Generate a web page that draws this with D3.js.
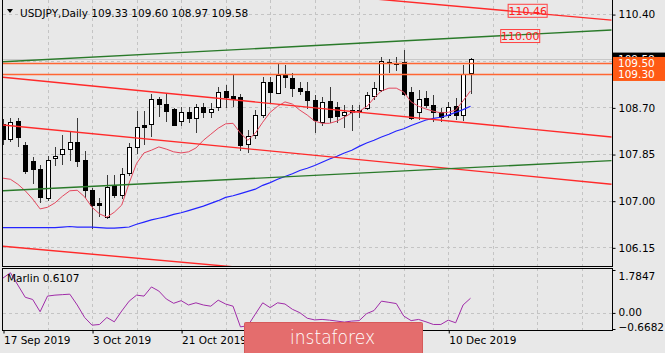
<!DOCTYPE html>
<html>
<head>
<meta charset="utf-8">
<script src="https://cdn.jsdelivr.net/npm/d3@7"></script>
<style>
  html, body { margin: 0; padding: 0; background: #e8e8e8; }
  svg { display: block; }
  text { font-family: "DejaVu Sans", sans-serif; }
</style>
</head>
<body>
<div id="chart"></div>
<script>
const symbolTitle = "USDJPY,Daily";
const lastQuote = [109.33, 109.60, 108.97, 109.58];

// daily candles, 17 Sep 2019 .. 13 Dec 2019
const opens = [108.40, 108.12, 108.45, 108.01, 107.72, 107.58, 107.04, 107.77, 107.85, 107.95,
  108.07, 107.74, 107.19, 106.95, 106.71, 107.29, 107.10, 107.50, 107.97, 108.38,
  108.40, 108.85, 108.76, 108.67, 108.46, 108.62, 108.50, 108.71, 108.61, 108.71,
  109.00, 108.90, 108.89, 108.03, 108.20, 108.56, 109.17, 108.96, 109.30, 109.23,
  109.06, 109.00, 108.83, 108.43, 108.82, 108.71, 108.56, 108.62, 108.66, 108.68,
  108.91, 109.02, 109.53, 109.51, 109.52, 108.98, 108.62, 108.88, 108.74, 108.62,
  108.56, 108.72, 108.56, 109.33];
const highs = [108.48, 108.50, 108.50, 108.07, 107.80, 107.65, 107.82, 107.97, 108.20, 108.26,
  108.50, 107.90, 107.24, 107.04, 107.47, 107.47, 107.59, 108.05, 108.63, 108.63,
  108.94, 108.89, 108.96, 108.69, 108.71, 108.71, 108.76, 108.78, 108.78, 109.08,
  109.11, 109.29, 108.95, 108.29, 108.65, 109.26, 109.26, 109.50, 109.47, 109.32,
  109.17, 109.17, 108.92, 108.89, 109.08, 108.80, 108.74, 108.75, 108.74, 108.98,
  109.17, 109.62, 109.58, 109.62, 109.74, 109.08, 109.02, 108.99, 108.92, 108.68,
  108.80, 108.88, 109.47, 109.60];
const lows = [108.03, 108.08, 107.99, 107.50, 107.32, 106.98, 107.01, 107.65, 107.67, 107.74,
  107.63, 107.06, 106.50, 106.73, 106.69, 107.07, 107.05, 107.47, 107.86, 108.04,
  108.17, 108.54, 108.45, 108.37, 108.38, 108.44, 108.26, 108.52, 108.52, 108.66,
  108.71, 108.73, 107.92, 107.88, 108.14, 108.53, 108.80, 108.96, 109.08, 108.91,
  108.94, 108.68, 108.26, 108.38, 108.43, 108.44, 108.35, 108.28, 108.53, 108.67,
  108.86, 109.00, 109.35, 109.38, 108.93, 108.49, 108.49, 108.71, 108.45, 108.45,
  108.53, 108.49, 108.47, 108.97];
const closes = [108.12, 108.44, 108.16, 107.54, 107.57, 107.07, 107.75, 107.82, 107.94, 108.07,
  107.73, 107.19, 106.92, 106.93, 107.25, 107.10, 107.49, 107.98, 108.35, 108.35,
  108.86, 108.76, 108.63, 108.38, 108.62, 108.50, 108.70, 108.62, 108.67, 108.98,
  108.89, 108.86, 108.01, 108.18, 108.56, 109.17, 108.98, 109.29, 109.25, 109.06,
  109.00, 108.83, 108.47, 108.79, 108.53, 108.55, 108.62, 108.66, 108.64, 108.92,
  109.05, 109.54, 109.50, 109.49, 108.94, 108.50, 108.85, 108.74, 108.62, 108.53,
  108.71, 108.56, 109.31, 109.58];

// moving averages as shown on the chart
const maFast = [107.41, 107.39, 107.30, 107.18, 107.03, 106.85, 106.88, 106.96, 107.08, 107.18,
  107.19, 107.07, 106.88, 106.76, 106.70, 106.79, 106.92, 107.32, 107.68, 107.87,
  107.92, 107.98, 107.94, 107.89, 107.87, 107.89, 107.96, 108.10, 108.21, 108.32,
  108.40, 108.41, 108.23, 108.10, 108.23, 108.43, 108.61, 108.72, 108.80, 108.76,
  108.65, 108.56, 108.45, 108.41, 108.41, 108.45, 108.52, 108.60, 108.63, 108.71,
  108.87, 109.00, 109.05, 109.05, 108.98, 108.80, 108.72, 108.67, 108.63, 108.60,
  108.61, 108.65, 108.82, 109.00];
const maSlow = [106.51, 106.51, 106.51, 106.51, 106.51, 106.51, 106.51, 106.51, 106.52, 106.53,
  106.52, 106.52, 106.52, 106.51, 106.50, 106.50, 106.51, 106.52, 106.57, 106.61,
  106.65, 106.68, 106.71, 106.75, 106.78, 106.82, 106.86, 106.90, 106.95, 107.00,
  107.06, 107.09, 107.13, 107.17, 107.21, 107.28, 107.33, 107.39, 107.44, 107.49,
  107.55, 107.59, 107.64, 107.70, 107.76, 107.81, 107.87, 107.92, 107.99, 108.05,
  108.10, 108.16, 108.21, 108.27, 108.31, 108.37, 108.42, 108.47, 108.50, 108.52,
  108.56, 108.61, 108.66, 108.72];

// Marlin oscillator
const marlin = [1.45, 1.67, 1.16, 0.65, 0.56, 0.05, 0.70, 0.74, 0.76, 0.78,
  0.33, -0.19, -0.51, -0.48, -0.19, -0.37, 0.08, 0.49, 0.74, 0.70,
  1.08, 0.91, 0.58, 0.40, 0.51, 0.33, 0.42, 0.33, 0.28, 0.53,
  0.37, 0.28, -0.58, -0.53, -0.05, 0.42, 0.22, 0.42, 0.37, 0.15,
  0.01, -0.22, -0.29, -0.27, -0.30, -0.34, -0.38, -0.34, -0.32, -0.03,
  0.10, 0.49, 0.44, 0.39, -0.13, -0.32, -0.27, -0.37, -0.48, -0.48,
  -0.30, -0.41, 0.33, 0.61];

const priceTicks = [110.40, 109.55, 108.70, 107.85, 107.00, 106.15];
const hiddenPriceTick = 109.55; // covered by the price tags
const marlinTicks = [1.7847, 0.00, -0.6682];
// labels of 6 Nov and 22 Nov sit under the watermark and are not shown
const dateTickBars = [0, 12, 24, 60];
const dateTickLabels = ["17 Sep 2019", "3 Oct 2019", "21 Oct 2019", "10 Dec 2019"];

// drawn objects: [bar, price] end points
const channelLines = [
  [[0, 109.25], [82, 108.16]],
  [[0, 108.38], [82, 107.30]],
  [[0, 106.17], [82, 105.18]],
  [[0, 111.28], [82, 110.29]]
];
const greenLines = [
  [[0, 109.53], [82, 110.11]],
  [[0, 107.18], [82, 107.73]]
];
const levels = [109.50, 109.30];
const bidPrice = 109.58;
const lineNotes = [
  {text: "110.46", bar: 70.7, price: 110.46},
  {text: "110.00", bar: 69.7, price: 110.00}
];

function renderChart(selector) {
    const W = 665, H = 353;
    const left = 3, right = 612;
    const mainTop = 0, mainBottom = 266;
    const indTop = 268, indBottom = 330;

    const svg = d3.select(selector).append("svg")
        .attr("width", W)
        .attr("height", H);

    svg.append("rect").attr("width", W).attr("height", H).attr("fill", "#e8e8e8");

    const x = d3.scaleLinear().domain([0, 82]).range([left, 611.5]);
    const y = d3.scaleLinear().domain([105.81, 110.62]).range([mainBottom, 2]);
    const yInd = d3.scaleLinear().domain([-0.6682, 1.7847]).range([329, 270]);

    const defs = svg.append("defs");
    defs.append("clipPath").attr("id", "clipMain").append("rect")
        .attr("x", left).attr("y", mainTop).attr("width", right - left).attr("height", mainBottom - mainTop);
    defs.append("clipPath").attr("id", "clipInd").append("rect")
        .attr("x", left).attr("y", indTop).attr("width", right - left).attr("height", indBottom - indTop);
    defs.append("clipPath").attr("id", "clipBidTag").append("rect")
        .attr("x", 0).attr("y", -7).attr("width", W - right).attr("height", 5.5);

    const main = svg.append("g").attr("clip-path", "url(#clipMain)");
    const ind = svg.append("g").attr("clip-path", "url(#clipInd)");

    const gridBars = d3.range(6, 82, 6);
    const crisp = v => Math.round(v) + 0.5;

    // grid
    main.selectAll(".vgrid").data(gridBars).enter().append("line")
        .attr("x1", d => crisp(x(d))).attr("x2", d => crisp(x(d)))
        .attr("y1", mainTop).attr("y2", mainBottom)
        .attr("stroke", "#c4c4c4").attr("stroke-dasharray", "3,3");
    main.selectAll(".hgrid").data(priceTicks).enter().append("line")
        .attr("x1", left).attr("x2", right)
        .attr("y1", d => crisp(y(d))).attr("y2", d => crisp(y(d)))
        .attr("stroke", "#c4c4c4").attr("stroke-dasharray", "3,3");
    ind.selectAll(".vgrid").data(gridBars).enter().append("line")
        .attr("x1", d => crisp(x(d))).attr("x2", d => crisp(x(d)))
        .attr("y1", indTop).attr("y2", indBottom)
        .attr("stroke", "#c4c4c4").attr("stroke-dasharray", "3,3");
    ind.append("line")
        .attr("x1", left).attr("x2", right)
        .attr("y1", crisp(yInd(0))).attr("y2", crisp(yInd(0)))
        .attr("stroke", "#c4c4c4").attr("stroke-dasharray", "3,3");

    // bid line
    main.append("line")
        .attr("x1", left).attr("x2", right)
        .attr("y1", crisp(y(bidPrice))).attr("y2", crisp(y(bidPrice)))
        .attr("stroke", "#c8c8c8");

    // candles
    const bars = opens.map((o, i) => ({i, o, h: highs[i], l: lows[i], c: closes[i]}));
    const candle = main.selectAll(".candle").data(bars).enter().append("g").attr("class", "candle");
    candle.append("line")
        .attr("x1", d => crisp(x(d.i))).attr("x2", d => crisp(x(d.i)))
        .attr("y1", d => Math.round(y(d.h))).attr("y2", d => Math.round(y(d.l)) + 1)
        .attr("stroke", "#3a3a3a");
    candle.append("rect")
        .attr("x", d => Math.round(x(d.i)) - 2 + 0.5)
        .attr("y", d => Math.round(y(Math.max(d.o, d.c))) + 0.5)
        .attr("width", 4)
        .attr("height", d => Math.max(1, Math.round(y(Math.min(d.o, d.c))) - Math.round(y(Math.max(d.o, d.c)))))
        .attr("fill", d => d.c >= d.o ? "#ffffff" : "#000000")
        .attr("stroke", "#000");

    // moving averages
    const priceLine = d3.line().x((d, i) => x(i)).y(d => y(d));
    main.append("path").datum(maSlow).attr("d", priceLine)
        .attr("fill", "none").attr("stroke", "#2424ff").attr("stroke-width", 1.2);
    main.append("path").datum(maFast).attr("d", priceLine)
        .attr("fill", "none").attr("stroke", "#e4485e").attr("stroke-width", 1);

    // trend lines
    const seg = d3.line().x(d => x(d[0])).y(d => y(d[1]));
    main.selectAll(".channel").data(channelLines).enter().append("path")
        .attr("d", seg).attr("fill", "none").attr("stroke", "#ff2a2a").attr("stroke-width", 1.4);
    main.selectAll(".green").data(greenLines).enter().append("path")
        .attr("d", seg).attr("fill", "none").attr("stroke", "#2a7a2a").attr("stroke-width", 1.4);
    main.selectAll(".level").data(levels).enter().append("line")
        .attr("x1", left).attr("x2", right)
        .attr("y1", d => y(d)).attr("y2", d => y(d))
        .attr("stroke", "#ff6633").attr("stroke-width", 1.5);

    // line notes
    const note = main.selectAll(".note").data(lineNotes).enter().append("g")
        .attr("transform", d => `translate(${x(d.bar)}, ${y(d.price)})`);
    note.append("rect")
        .attr("x", -19.5).attr("y", -6.5).attr("width", 39).attr("height", 13)
        .attr("fill", "none").attr("stroke", "#ff4040");
    note.append("text")
        .attr("text-anchor", "middle").attr("dy", "0.36em")
        .attr("font-size", 11).attr("fill", "#ff2020")
        .text(d => d.text);

    // oscillator
    const oscLine = d3.line().x((d, i) => x(i)).y(d => yInd(d));
    ind.append("path").datum(marlin).attr("d", oscLine)
        .attr("fill", "none").attr("stroke", "#a02ca8").attr("stroke-width", 1);

    // frames
    svg.append("rect").attr("x", left - 0.5).attr("y", -0.5)
        .attr("width", right - left + 1).attr("height", mainBottom + 1)
        .attr("fill", "none").attr("stroke", "#000");
    svg.append("rect").attr("x", left - 0.5).attr("y", indTop + 0.5)
        .attr("width", right - left + 1).attr("height", indBottom - indTop)
        .attr("fill", "none").attr("stroke", "#000");

    // price axis
    const priceAxis = svg.append("g")
        .attr("transform", `translate(${right + 0.5}, 0.5)`)
        .call(d3.axisRight(y).tickValues(priceTicks).tickSize(3).tickPadding(3)
            .tickFormat(d => d === hiddenPriceTick ? "" : d3.format(".2f")(d)));
    priceAxis.select(".domain").remove();
    priceAxis.selectAll("text").attr("font-family", "DejaVu Sans").attr("font-size", 10.5).attr("fill", "#000");

    const indAxis = svg.append("g")
        .attr("transform", `translate(${right + 0.5}, 0)`)
        .call(d3.axisRight(yInd).tickValues(marlinTicks).tickSize(3).tickPadding(3)
            .tickFormat(d => d === 0 ? "0.00" : d3.format(".4f")(d)));
    indAxis.select(".domain").remove();
    indAxis.selectAll("text").attr("font-family", "DejaVu Sans").attr("font-size", 10.5).attr("fill", "#000");
    indAxis.selectAll(".tick text").attr("dy", (d) => d === 1.7847 ? "0.9em" : d === 0 ? "0.2em" : "0.1em");

    // time axis
    const timeAxis = svg.append("g")
        .attr("transform", `translate(0.5, ${indBottom + 0.5})`)
        .call(d3.axisBottom(x).tickValues(dateTickBars).tickSize(3).tickPadding(3)
            .tickFormat((d, i) => dateTickLabels[i]));
    timeAxis.select(".domain").remove();
    timeAxis.selectAll("text").attr("text-anchor", "start")
        .attr("font-family", "DejaVu Sans").attr("font-size", 10.5).attr("fill", "#000");

    // price tags on the right: bid tag sits mostly under the level tags
    const bidTag = svg.append("g")
        .attr("transform", `translate(${right + 1}, ${y(bidPrice)})`)
        .attr("clip-path", "url(#clipBidTag)");
    bidTag.append("rect").attr("x", 0).attr("y", -6.5).attr("width", W - right).attr("height", 13)
        .attr("fill", "#000");
    bidTag.append("text").attr("x", 5).attr("dy", "0.36em")
        .attr("font-size", 10.5).attr("fill", "#fff")
        .text(d3.format(".2f")(bidPrice));

    const tag = svg.selectAll(".tag").data(levels).enter().append("g")
        .attr("transform", d => `translate(${right + 1}, ${y(d)})`);
    tag.append("rect").attr("x", 0).attr("y", -6.5).attr("width", W - right).attr("height", 13)
        .attr("fill", "#ff5a14");
    tag.append("text").attr("x", 5).attr("dy", "0.36em")
        .attr("font-size", 10.5).attr("fill", "#fff")
        .text(d => d3.format(".2f")(d));

    // header
    svg.append("path").attr("d", "M7,9 L13,9 L10,13 Z").attr("fill", "#000");
    svg.append("text").attr("x", 20).attr("y", 17)
        .attr("font-size", 10.5).attr("fill", "#000")
        .text(symbolTitle + "  " + lastQuote.map(d3.format(".2f")).join(" "));

    svg.append("text").attr("x", 7).attr("y", 282)
        .attr("font-size", 10.5).attr("fill", "#000")
        .text("Marlin " + d3.format(".4f")(0.6107));

    // watermark
    const logo = svg.append("g").attr("transform", "translate(244, 322)");
    logo.append("rect").attr("x", 0.5).attr("y", 0.5).attr("width", 178).attr("height", 40).attr("rx", 1)
        .attr("fill", "#e46d6d").attr("stroke", "#d65a5a");
    logo.append("text").attr("x", 46).attr("y", 22)
        .attr("font-family", "Open Sans").attr("font-weight", 300)
        .attr("font-size", 20).attr("fill", "#fff")
        .attr("textLength", 85).attr("lengthAdjust", "spacingAndGlyphs")
        .text("instaforex");
}

renderChart("#chart");
</script>
</body>
</html>
